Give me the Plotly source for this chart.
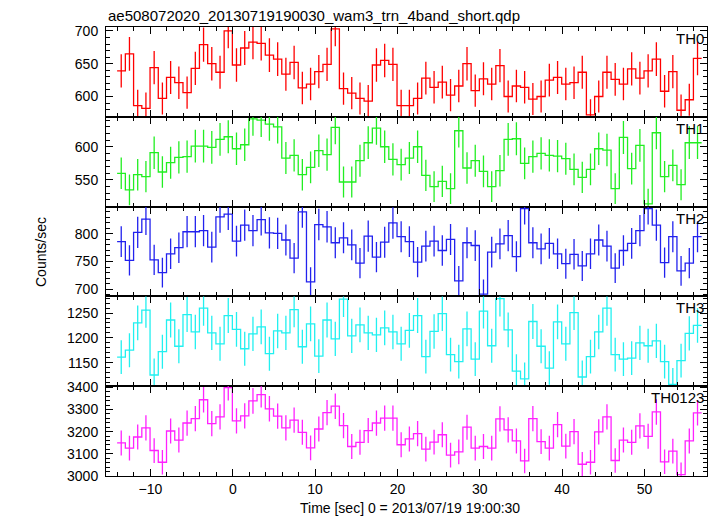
import numpy as np
import plotly.graph_objects as go
from plotly.subplots import make_subplots

# ---- data (1-s bins, count rates) ----
t_first = -13.55          # centre of the first 1-s bin
n_bins = 71
bin_width = 1.0
times = t_first + bin_width * np.arange(n_bins)

th0 = [639, 665, 586, 582, 644, 597, 629, 621, 606, 643, 679, 650, 637, 700, 648, 674, 683, 681,
       663, 657, 634, 652, 613, 619, 638, 649, 703, 612, 605, 597, 593, 648, 655, 649, 586, 586,
       597, 628, 614, 622, 602, 616, 650, 609, 627, 619, 647, 600, 616, 614, 596, 600, 625, 629,
       619, 621, 637, 572, 600, 637, 626, 619, 642, 628, 639, 657, 608, 638, 579, 595, 658]
th1 = [560, 535, 558, 555, 591, 562, 576, 584, 585, 601, 601, 599, 611, 615, 597, 603, 642, 640,
       634, 630, 583, 587, 558, 569, 594, 588, 629, 547, 547, 579, 606, 628, 600, 581, 573, 583,
       600, 557, 540, 548, 537, 624, 568, 579, 563, 540, 564, 611, 612, 575, 585, 590, 587, 586,
       582, 566, 554, 566, 597, 595, 537, 614, 567, 602, 514, 621, 555, 572, 543, 606, 606]
th2 = [786, 752, 803, 827, 753, 730, 764, 775, 804, 804, 806, 776, 831, 836, 787, 816, 806, 826,
       802, 801, 789, 756, 840, 713, 817, 813, 784, 793, 780, 747, 796, 758, 785, 820, 795, 786,
       749, 778, 787, 770, 790, 715, 784, 779, 691, 767, 782, 797, 759, 846, 784, 773, 783, 764,
       746, 763, 742, 764, 789, 778, 738, 770, 783, 806, 846, 816, 748, 795, 733, 747, 795]
th3 = [1161, 1175, 1230, 1256, 1125, 1172, 1236, 1183, 1247, 1212, 1260, 1210, 1188, 1245, 1217,
       1178, 1208, 1222, 1168, 1214, 1210, 1257, 1182, 1228, 1163, 1236, 1198, 1278, 1204, 1226,
       1210, 1206, 1220, 1212, 1188, 1215,
       1245, 1162, 1213, 1249, 1166, 1152, 1218, 1157, 1254, 1184, 1279, 1216, 1133, 1117, 1233,
       1183, 1139, 1232, 1188, 1251, 1121, 1162, 1212, 1260, 1166, 1157, 1159, 1190, 1184, 1194,
       1152, 1106, 1154, 1209, 1225]
th0123 = [3149, 3126, 3176, 3217, 3115, 3062, 3203, 3162, 3239, 3259, 3344, 3236, 3267, 3399, 3249,
          3271, 3339, 3367, 3303, 3270, 3217, 3252, 3197, 3127, 3212, 3286, 3315, 3227, 3133, 3152,
          3205, 3239, 3261, 3261, 3141, 3167,
          3191, 3121, 3153, 3186, 3094, 3109, 3220, 3126, 3133, 3126, 3258, 3208, 3158, 3068, 3259,
          3155, 3126, 3232, 3135, 3200, 3053, 3062, 3199, 3267, 3070, 3162, 3152, 3226, 3179, 3289,
          3064, 3112, 3006, 3158, 3285]

band_names = ["TH0", "TH1", "TH2", "TH3", "TH0123"]
band_values = [th0, th1, th2, th3, th0123]
band_colors = ["#ff0000", "#22ee22", "#2222ee", "#22f0f0", "#ff22ff"]
y_ranges = [[569, 706], [510, 645], [686.7, 849.6], [1102.4, 1283.6], [3000, 3405]]
y_major = [50, 50, 50, 50, 100]
y_minor = [10, 10, 10, 10, 20]

title_text = "ae508072020_20130719190030_wam3_trn_4band_short.qdp"
x_title = "Time [sec] 0 = 2013/07/19 19:00:30"
y_title = "Counts/sec"

FONT = "Liberation Sans, Arial, Helvetica, sans-serif"

fig = make_subplots(rows=5, cols=1, shared_xaxes=True, vertical_spacing=0)

for i, (name, vals, col) in enumerate(zip(band_names, band_values, band_colors)):
    row = i + 1
    v = np.asarray(vals, dtype=float)
    edges = np.append(times - bin_width / 2, times[-1] + bin_width / 2)
    ystep = np.append(v, v[-1])
    fig.add_trace(go.Scatter(x=edges, y=ystep, mode="lines", line_shape="hv",
                             line=dict(color=col, width=1.3), showlegend=False,
                             hoverinfo="skip"), row=row, col=1)
    fig.add_trace(go.Scatter(x=times, y=v, mode="markers",
                             marker=dict(size=1, color=col),
                             error_y=dict(type="data", array=np.sqrt(v * bin_width),
                                          width=0, thickness=1.3, color=col),
                             showlegend=False), row=row, col=1)
    yname = "yaxis" if row == 1 else f"yaxis{row}"
    fig.layout[yname].update(
        range=y_ranges[i], dtick=y_major[i], tick0=0, automargin=False,
        ticks="inside", ticklen=7, tickcolor="black", tickwidth=1,
        minor=dict(ticks="inside", ticklen=4, dtick=y_minor[i], tickcolor="black", tickwidth=1),
        showline=True, linecolor="black", linewidth=1, mirror="ticks",
        showgrid=False, zeroline=False, ticklabelstandoff=4,
        tickfont=dict(family=FONT, size=14, color="black"))
    xname = "xaxis" if row == 1 else f"xaxis{row}"
    fig.layout[xname].update(
        range=[-15.4, 57.6], dtick=10, tick0=0, automargin=False,
        ticks="inside", ticklen=7, tickcolor="black", tickwidth=1,
        minor=dict(ticks="inside", ticklen=4, dtick=2, tickcolor="black", tickwidth=1),
        showline=True, linecolor="black", linewidth=1, mirror="ticks",
        showgrid=False, zeroline=False,
        tickfont=dict(family=FONT, size=14, color="black"))
    yref = "y domain" if row == 1 else f"y{row} domain"
    fig.add_annotation(text=name, xref="paper", x=1.0, xanchor="right",
                       yref=yref, y=1.0, yanchor="top", yshift=-1, xshift=-1,
                       showarrow=False, font=dict(family=FONT, size=15, color="black"))

fig.add_annotation(text=x_title, xref="paper", x=0.5, xanchor="center", xshift=3,
                   yref="paper", y=0.0, yanchor="top", yshift=-22, showarrow=False,
                   font=dict(family=FONT, size=14, color="black"))
fig.add_annotation(text=title_text, xref="paper", x=0.0, xanchor="left",
                   yref="paper", y=1.0, yanchor="bottom", yshift=1, showarrow=False,
                   font=dict(family=FONT, size=15, color="black"))
fig.add_annotation(text=y_title, xref="paper", x=-0.109, xanchor="center",
                   yref="paper", y=0.5, yanchor="middle", textangle=-90, showarrow=False,
                   font=dict(family=FONT, size=14, color="black"))

# the page body adds an 8-px offset, so the figure is sized to fit the window
fig.update_layout(width=709, height=508, margin=dict(l=98, r=10, t=19, b=40),
                  plot_bgcolor="white", paper_bgcolor="white", showlegend=False)

fig.write_html("out.html")
